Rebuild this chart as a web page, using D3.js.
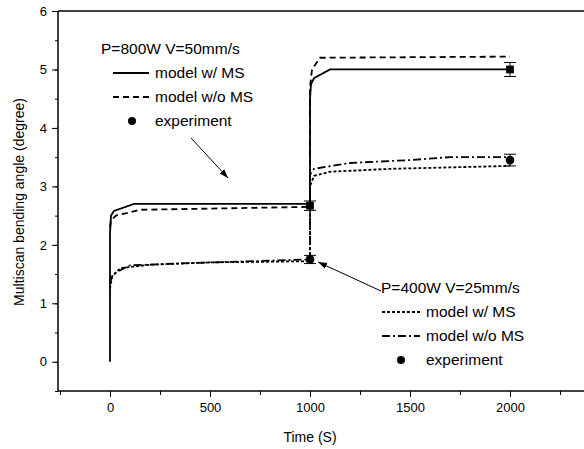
<!DOCTYPE html>
<html>
<head>
<meta charset="utf-8">
<script src="https://cdn.jsdelivr.net/npm/d3@7"></script>
<style>
  body { margin: 0; background: #fff; }
  text { font-family: "Liberation Sans", Arial, sans-serif; }
</style>
</head>
<body>
<div id="chart"></div>
<script>
// ---- data ----
var xTicks = [0, 500, 1000, 1500, 2000];
var yTicks = [0, 1, 2, 3, 4, 5, 6];

// P=800W V=50mm/s
var t800ms   = [0, 0, 5, 20, 120, 1000, 1000, 1005, 1020, 1100, 2000];
var v800ms   = [0, 2.2, 2.5, 2.58, 2.7, 2.7, 4.5, 4.75, 4.85, 5.0, 5.0];
var t800nom  = [0, 5, 30, 150, 500, 1000, 1000, 1010, 1050, 2000];
var v800nom  = [2.3, 2.42, 2.5, 2.6, 2.62, 2.65, 4.7, 5.0, 5.2, 5.22];
var t800exp  = [1000, 2000];
var v800exp  = [2.67, 5.0];
var e800exp  = [0.08, 0.12];

// P=400W V=25mm/s
var t400ms   = [0, 10, 50, 200, 500, 1000, 1000, 1020, 1100, 1400, 2000];
var v400ms   = [1.25, 1.45, 1.6, 1.66, 1.7, 1.72, 3.0, 3.18, 3.25, 3.3, 3.35];
var t400nom  = [0, 15, 100, 500, 1000, 1000, 1020, 1200, 1500, 1700, 2000];
var v400nom  = [1.35, 1.5, 1.65, 1.7, 1.75, 3.2, 3.3, 3.4, 3.45, 3.5, 3.5];
var t400exp  = [1000, 2000];
var v400exp  = [1.75, 3.45];
var e400exp  = [0.07, 0.1];

var width = 584, height = 449;

var svg = d3.select("#chart").append("svg")
  .attr("width", width)
  .attr("height", height);

var x = d3.scaleLinear().domain([-260, 2370]).range([58, 584]);
var y = d3.scaleLinear().domain([-0.5, 6]).range([391, 11]);

// axes (minor ticks first, then major ticks with labels)
svg.append("g")
  .attr("transform", "translate(0," + y(-0.5) + ")")
  .call(d3.axisBottom(x).tickValues(d3.range(-250, 2400, 250)).tickSize(4).tickFormat(""))
  .call(function (g) { g.select(".domain").remove(); });
svg.append("g")
  .attr("transform", "translate(0," + y(-0.5) + ")")
  .call(d3.axisBottom(x).tickValues(xTicks).tickSize(6).tickPadding(6).tickFormat(d3.format("d")))
  .call(function (g) { g.select(".domain").attr("d", "M" + x.range()[0] + ",0H" + x.range()[1]).attr("stroke-width", 1.5); })
  .selectAll("text").attr("font-size", 13).attr("fill", "#000");

svg.append("g")
  .attr("transform", "translate(" + x(-260) + ",0)")
  .call(d3.axisLeft(y).tickValues(d3.range(-0.5, 6, 0.5)).tickSize(3).tickFormat(""))
  .call(function (g) { g.select(".domain").remove(); });
svg.append("g")
  .attr("transform", "translate(" + x(-260) + ",0)")
  .call(d3.axisLeft(y).tickValues(yTicks).tickSize(6).tickPadding(5).tickFormat(d3.format("d")))
  .call(function (g) { g.select(".domain").attr("d", "M0," + y.range()[0] + "V" + y.range()[1]).attr("stroke-width", 1.5); })
  .selectAll("text").attr("font-size", 13).attr("fill", "#000");

// top frame line
svg.append("line")
  .attr("x1", x(-260)).attr("x2", 584)
  .attr("y1", y(6)).attr("y2", y(6))
  .attr("stroke", "#000").attr("stroke-width", 1.5);

// axis titles
svg.append("text")
  .attr("x", 310).attr("y", 442)
  .attr("text-anchor", "middle").attr("font-size", 14)
  .text("Time (S)");
svg.append("text")
  .attr("transform", "translate(24,202) rotate(-90)")
  .attr("text-anchor", "middle").attr("font-size", 14)
  .text("Multiscan bending angle (degree)");

// curves
var line = d3.line()
  .x(function (d) { return x(d[0]); })
  .y(function (d) { return y(d[1]); });

function curve(ts, vs, dash) {
  svg.append("path")
    .datum(d3.zip(ts, vs))
    .attr("d", line)
    .attr("fill", "none")
    .attr("stroke", "#000")
    .attr("stroke-width", 1.8)
    .attr("stroke-dasharray", dash);
}
curve(t800nom, v800nom, "6,4");
curve(t800ms, v800ms, null);
curve(t400ms, v400ms, "3,2");
curve(t400nom, v400nom, "8,3,2,3");

// experiment points with error bars
function points(ts, vs, es, shape) {
  var g = svg.append("g");
  ts.forEach(function (t, i) {
    var cx = x(t), lo = y(vs[i] - es[i]), hi = y(vs[i] + es[i]);
    g.append("line").attr("x1", cx).attr("x2", cx).attr("y1", lo).attr("y2", hi).attr("stroke", "#000");
    g.append("line").attr("x1", cx - 6).attr("x2", cx + 6).attr("y1", lo).attr("y2", lo).attr("stroke", "#000");
    g.append("line").attr("x1", cx - 6).attr("x2", cx + 6).attr("y1", hi).attr("y2", hi).attr("stroke", "#000");
    g.append("path")
      .attr("transform", "translate(" + cx + "," + y(vs[i]) + ")")
      .attr("d", d3.symbol().type(shape).size(60)())
      .attr("fill", "#000");
  });
}
points(t800exp, v800exp, e800exp, d3.symbolSquare);
points(t400exp, v400exp, e400exp, d3.symbolCircle);

// arrows
svg.append("defs").append("marker")
  .attr("id", "ah").attr("viewBox", "0 0 10 10")
  .attr("refX", 10).attr("refY", 5)
  .attr("markerWidth", 9).attr("markerHeight", 9)
  .attr("orient", "auto")
  .append("path").attr("d", "M0,1.5L10,5L0,8.5z").attr("fill", "#000");

svg.append("line")
  .attr("x1", 191).attr("y1", 138).attr("x2", 228).attr("y2", 178)
  .attr("stroke", "#000").attr("marker-end", "url(#ah)");
svg.append("line")
  .attr("x1", 381).attr("y1", 291).attr("x2", 318).attr("y2", 262)
  .attr("stroke", "#000").attr("marker-end", "url(#ah)");

// legends
function legend(x0, y0, title, items, lineW, dotX) {
  var g = svg.append("g").attr("transform", "translate(" + x0 + "," + y0 + ")");
  g.append("text").attr("x", 0).attr("y", 0).attr("font-size", 15.5).text(title);
  items.forEach(function (it, i) {
    var yy = 24 + i * 24;
    if (it.dash === "dot") {
      g.append("circle").attr("cx", dotX).attr("cy", yy - 5).attr("r", 4).attr("fill", "#000");
    } else {
      g.append("line").attr("x1", lineW[0]).attr("x2", lineW[1]).attr("y1", yy - 5).attr("y2", yy - 5)
        .attr("stroke", "#000").attr("stroke-width", 1.8).attr("stroke-dasharray", it.dash);
    }
    g.append("text").attr("x", lineW[1] + 6).attr("y", yy).attr("font-size", 15.5).text(it.label);
  });
}
legend(101, 54, "P=800W V=50mm/s", [
  { label: "model w/ MS", dash: null },
  { label: "model w/o MS", dash: "6,4" },
  { label: "experiment", dash: "dot" }
], [12, 48], 31);
legend(381, 293, "P=400W V=25mm/s", [
  { label: "model w/ MS", dash: "3,2" },
  { label: "model w/o MS", dash: "8,3,2,3" },
  { label: "experiment", dash: "dot" }
], [1, 39], 20);
</script>
</body>
</html>
